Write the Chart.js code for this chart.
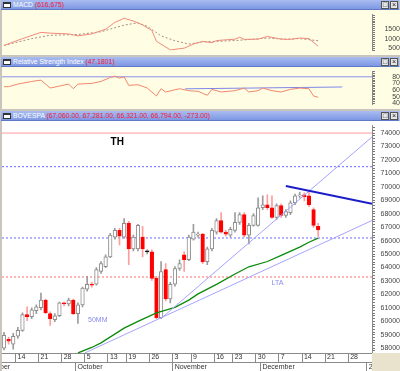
<!DOCTYPE html>
<html>
<head>
<meta charset="utf-8">
<script src="https://cdn.jsdelivr.net/npm/chart.js@4.4.1/dist/chart.umd.min.js"></script>
<style>
  html, body { margin: 0; padding: 0; }
  body { width: 400px; height: 371px; background: #c9c5bd; position: relative; overflow: hidden; font-family: "Liberation Sans", Arial, sans-serif; }
  .bar { position: absolute; left: 1px; width: 398px; height: 10px; background: linear-gradient(#aabdf1, #7d97e3); border-bottom: 1px solid #6079c4; box-sizing: border-box; font-size: 6.8px; line-height: 10px; color: #fff; white-space: nowrap; overflow: hidden; }
  .bar .ico { position: absolute; left: 2px; top: 2px; width: 8px; height: 6px; background: #fff; border: 1px solid #333; border-top-width: 2px; box-sizing: border-box; }
  .bar .t { position: absolute; left: 12px; top: 0; }
  .bar .v { color: #f0183a; }
  .bar .btn { position: absolute; top: 1px; width: 8px; height: 8px; background: #e6e6e6; border: 1px solid #555; box-sizing: border-box; color: #222; font-size: 7px; line-height: 6px; text-align: center; }
  .pane { position: absolute; left: 2px; }
  .corner { position: absolute; left: 372px; top: 353px; width: 28px; height: 18px; background: #e9e2cc; }
</style>
</head>
<body>
<div class="bar" style="top:0"><span class="ico"></span><span class="t">MACD <span class="v">(616,675)</span></span><span class="btn" style="left:380px">□</span><span class="btn" style="left:389px">×</span></div>
<canvas id="macd" class="pane" width="398" height="45" style="top:10px;background:#fffee4"></canvas>
<div class="bar" style="top:57px"><span class="ico"></span><span class="t">Relative Strength Index <span class="v">(47,1801)</span></span><span class="btn" style="left:380px">□</span><span class="btn" style="left:389px">×</span></div>
<canvas id="rsi" class="pane" width="398" height="42" style="top:67px;background:#fffee4"></canvas>
<div class="bar" style="top:111px"><span class="ico"></span><span class="t">BOVESPA <span class="v">(67,060.00, 67,281.00, 66,321.00, 66,794.00, -273.00)</span></span><span class="btn" style="left:380px">□</span><span class="btn" style="left:389px">×</span></div>
<canvas id="main" class="pane" width="398" height="250" style="top:121px;background:#fff"></canvas>
<div class="corner"></div>
<script>
// dias de pregão: índice 0 = 9 set 2009, 68 = 17 dez 2009
const OPEN  = [58010,58670,58300,58890,59330,60500,60350,60790,61010,61590,60570,60130,60420,61370,61300,61590,60570,61230,62390,62760,62760,63710,64070,64800,66260,66770,66260,67280,65390,65390,66260,65170,65170,63200,60280,63850,61660,62760,63930,64950,64580,66120,66410,66480,64440,65390,66630,67500,66630,66410,66770,67360,67940,66410,67140,67140,68450,68670,68450,67720,68600,67870,68090,68820,69330,69400,69330,68310,67060]
const HIGH  = [59180,58820,59110,59550,60640,61080,61010,61230,62100,61660,60710,60570,61440,61440,61740,61660,61370,62540,63340,62900,64000,64440,64950,66550,66920,66920,67650,67430,66410,67210,67070,65310,65310,63340,64440,64290,62900,64070,64580,65170,66410,67210,66630,66550,65530,66920,67650,68090,66770,66990,68090,68090,68090,67280,68010,69180,69330,69400,69330,68740,68740,68310,68960,69470,69620,69550,69690,68450,67281]
const LOW   = [57870,58300,57940,58740,59250,60060,60200,60570,60860,60570,59690,59980,60350,61150,61150,60500,59840,61080,62250,62540,62690,63560,64000,64730,66120,65680,66190,64220,65240,65240,64800,65020,63050,60200,60200,61520,61370,62610,63780,63710,64510,66040,66260,64290,64220,65240,66480,66550,66340,66260,66630,67210,66260,65750,67070,67070,68310,68310,67650,67580,67720,67720,67940,68670,69180,68960,68530,66990,66321]
const CLOSE = [58960,58520,58890,59330,60500,60350,60860,61080,61590,60640,60200,60420,61370,61300,61590,60570,61230,62470,62760,62690,63850,64290,64800,66410,66770,66340,67280,65390,66260,67140,65390,65170,63200,60280,63710,61660,62760,63930,64290,64580,66260,66630,66480,64440,65390,66770,67500,66630,66480,66850,67360,67940,66410,67140,67870,68450,68670,68450,67720,68600,67870,68160,68820,69330,69400,69260,68670,67140,66794]

// média móvel 50 (pares [dia, valor])
const MM50 = [[16,57650],[19,58060],[21,58400],[26,59500],[29,60000],[33,60630],[37,61040],[40,61580],[42,62040],[46,62750],[50,63520],[53,64060],[57,64450],[60,64900],[64,65520],[66,65880],[68,66190]]
// linhas de tendência traçadas (pares [dia, preço])
const LTA_LOW   = [[17.5,57650],[79.65,67500]]
const LTA_STEEP = [[34.2,60280],[79.65,73710]]
const LTB       = [[61,70060],[79.65,68740]]
const LEVELS_BLUE = [71500, 66200]
const LEVEL_RED   = 63300
const LEVEL_TOP   = 74000

const MACD_LINE = [[0,650],[4,1000],[8,1320],[10,1280],[14,1240],[16,1140],[19,1240],[22,1480],[24,1830],[26,2040],[28,1900],[30,1700],[32,1420],[33,860],[36,420],[39,510],[41,720],[43,860],[45,790],[46,900],[50,970],[51,1070],[52,960],[55,970],[57,1110],[60,970],[62,960],[64,1030],[66,1000],[68,610]]
const MACD_SIGNAL = [[0,650],[6,1000],[10,1170],[16,1210],[21,1350],[26,1690],[29,1810],[31,1630],[34,1140],[37,890],[40,720],[43,830],[46,860],[50,900],[54,970],[57,1030],[61,970],[64,1000],[68,890]]

const RSI_LINE = [[0,65],[1,65],[3,69],[6,73],[8,75],[10,63],[12,66],[14,69],[15,62],[16,69],[19,70],[21,73],[23,79],[24,81],[25,78],[26,80],[27,67],[29,68],[31,63],[33,51],[34,62],[35,57],[38,62],[40,59],[42,58],[43,55],[44,52],[45,61],[47,57],[50,59],[52,63],[53,57],[55,59],[56,63],[58,59],[60,57],[62,61],[64,63],[66,62],[67,51],[68,49]]
const RSI_TREND = [[39.2,61.8],[73.2,64.6]]
const RSI_LEVEL = 80

const PRICE_TICKS = [58000,59000,60000,61000,62000,63000,64000,65000,66000,67000,68000,69000,70000,71000,72000,73000,74000]
const MACD_TICKS = [500,1000,1500]
const RSI_TICKS = [40,50,60,70,80]
const DATE_TICK_DAY   = [3,8,13,18,23,27,32,37,41,46,50,55,60,65,70,75]
const DATE_TICK_LABEL = ['14','21','28','5','13','19','26','3','9','16','23','30','7','14','21','28']
const MONTH_TICK_DAY   = [-6,16,37,56,79]
const MONTH_TICK_LABEL = ['September','October','November','December','2010']

const NOTE_TEXT  = ['TH','50MM','LTA']
const NOTE_DAY   = [24.5,20.3,59.2]
const NOTE_PRICE = [73300,60090,62870]

const X_MIN = -0.43, X_MAX = 79.65

Chart.defaults.font.family = '"Liberation Sans", Arial, sans-serif'
Chart.defaults.animation = false
Chart.defaults.events = []
Chart.defaults.plugins.legend.display = false
Chart.defaults.plugins.tooltip.enabled = false

const pts = (pairs) => pairs.map(([x, y]) => ({ x, y }))
const flat = (v) => [{ x: X_MIN, y: v }, { x: X_MAX, y: v }]
const steps = (lo, hi, st) => {
  const out = []
  for (let v = lo; v <= hi + 1e-9; v += st) out.push({ value: Math.round(v * 100) / 100 })
  return out
}

// eixo à direita, rótulos alinhados pela direita (espaços de dígito para igualar a largura)
function rightAxis(min, max, labels, minor) {
  return {
    position: 'right', min, max,
    afterFit: (s) => { s.width = 28 },
    afterBuildTicks: (s) => { s.ticks = steps(minor[0], minor[1], minor[2]) },
    ticks: {
      autoSkip: false, crossAlign: 'far', padding: 0, color: '#444', font: { size: 7 },
      callback: (v) => labels.includes(v) ? String(v).padStart(5, '\u2007') : ''
    },
    grid: { drawOnChartArea: false, tickLength: 3, color: '#777' },
    border: { color: '#888' }
  }
}

function line(data, color, width, dash) {
  return { type: 'line', data, borderColor: color, borderWidth: width, borderDash: dash || [], pointRadius: 0, fill: false, tension: 0 }
}

// MACD
new Chart(document.getElementById('macd'), {
  type: 'line',
  data: { datasets: [
    line(pts(MACD_LINE), '#f08a7c', 1),
    line(pts(MACD_SIGNAL), '#a88c80', 1, [2, 2])
  ] },
  options: {
    responsive: false,
    scales: {
      x: { type: 'linear', min: X_MIN, max: X_MAX, display: false },
      y: rightAxis(375, 2250, MACD_TICKS, [400, 2200, 100])
    }
  }
})

// IFR
new Chart(document.getElementById('rsi'), {
  type: 'line',
  data: { datasets: [
    line(pts(RSI_LINE), '#f0866e', 1),
    line(pts(RSI_TREND), '#7f86ea', 1),
    line(flat(RSI_LEVEL), '#8a90ec', 1)
  ] },
  options: {
    responsive: false,
    scales: {
      x: { type: 'linear', min: X_MIN, max: X_MAX, display: false },
      y: rightAxis(37.6, 88.5, RSI_TICKS, [40, 87.5, 2.5])
    }
  }
})

// anotações de texto e nomes dos meses (estes saem cortados nas bordas, como no original)
const notesPlugin = {
  id: 'notes',
  afterDatasetsDraw(chart) {
    const { ctx, scales: { x, y } } = chart
    NOTE_TEXT.forEach((t, k) => {
      ctx.save()
      ctx.font = k === 0 ? 'bold 10px "Liberation Sans", Arial' : '7px "Liberation Sans", Arial'
      ctx.fillStyle = k === 0 ? '#000' : '#8a8af0'
      ctx.textAlign = 'center'
      ctx.textBaseline = 'middle'
      ctx.fillText(t, x.getPixelForValue(NOTE_DAY[k]), y.getPixelForValue(NOTE_PRICE[k]))
      ctx.restore()
    })
  },
  afterDraw(chart) {
    const { ctx } = chart
    const m = chart.scales.xMonth
    ctx.save()
    ctx.font = '7px "Liberation Sans", Arial'
    ctx.fillStyle = '#333'
    ctx.textAlign = 'left'
    ctx.textBaseline = 'top'
    MONTH_TICK_LABEL.forEach((t, k) => {
      ctx.fillText(t, m.getPixelForValue(MONTH_TICK_DAY[k] - 0.5) + 2, m.top + 1.5)
    })
    ctx.restore()
  }
}

const up = (i) => CLOSE[i] > OPEN[i]
const doji = (i) => CLOSE[i] === OPEN[i]
const bodyFill = (c) => doji(c.dataIndex) ? '#000' : up(c.dataIndex) ? '#fff' : '#ff0000'
const bodyEdge = (c) => doji(c.dataIndex) ? '#000' : up(c.dataIndex) ? '#8c8c8c' : '#ff0000'
const wickColor = (c) => up(c.dataIndex) || doji(c.dataIndex) ? '#9c9c9c' : '#ff9c9c'

new Chart(document.getElementById('main'), {
  type: 'bar',
  data: { datasets: [
    line(pts(LTB), '#1c1cc8', 2),
    line(pts(LTA_STEEP), '#a4a4ff', 1),
    line(pts(LTA_LOW), '#a4a4ff', 1),
    line(pts(MM50), '#0b8a0b', 1.3),
    {
      data: OPEN.map((o, i) => ({ x: i, y: [o, CLOSE[i]] })),
      backgroundColor: bodyFill, borderColor: bodyEdge, borderWidth: 1,
      barThickness: 3.6, minBarLength: 1, grouped: false, borderSkipped: false
    },
    {
      data: LOW.map((l, i) => ({ x: i, y: [l, HIGH[i]] })),
      backgroundColor: wickColor, barThickness: 1, grouped: false
    },
    line(flat(LEVELS_BLUE[0]), '#6a6aff', 1, [2, 2]),
    line(flat(LEVELS_BLUE[1]), '#6a6aff', 1, [2, 2]),
    line(flat(LEVEL_RED), '#ff6a6a', 1, [2, 2]),
    line(flat(LEVEL_TOP), '#ff9c9c', 1)
  ] },
  options: {
    responsive: false,
    scales: {
      x: {
        type: 'linear', min: X_MIN, max: X_MAX, offset: false, weight: 0,
        afterFit: (s) => { s.height = 9 },
        afterBuildTicks: (s) => { s.ticks = DATE_TICK_DAY.map((d) => ({ value: d - 0.5 })) },
        ticks: { autoSkip: false, maxRotation: 0, align: 'start', padding: -9, color: '#333', font: { size: 7 },
          callback: (v, k) => ' ' + DATE_TICK_LABEL[k] },
        grid: { drawOnChartArea: false, offset: false, tickLength: 9, color: '#8a8a8a' },
        border: { color: '#8a8a8a' }
      },
      xMonth: {
        type: 'linear', axis: 'x', position: 'bottom', min: X_MIN, max: X_MAX, offset: false, weight: 1,
        afterFit: (s) => { s.height = 9 },
        afterBuildTicks: (s) => { s.ticks = MONTH_TICK_DAY.map((d) => ({ value: d - 0.5 })) },
        ticks: { display: false },
        grid: { drawOnChartArea: false, offset: false, tickLength: 9, color: '#8a8a8a' },
        border: { color: '#8a8a8a' }
      },
      y: Object.assign(rightAxis(57648, 74584, PRICE_TICKS, [57800, 74400, 200]), { beginAtZero: false })
    }
  },
  plugins: [notesPlugin]
})
</script>
</body>
</html>
